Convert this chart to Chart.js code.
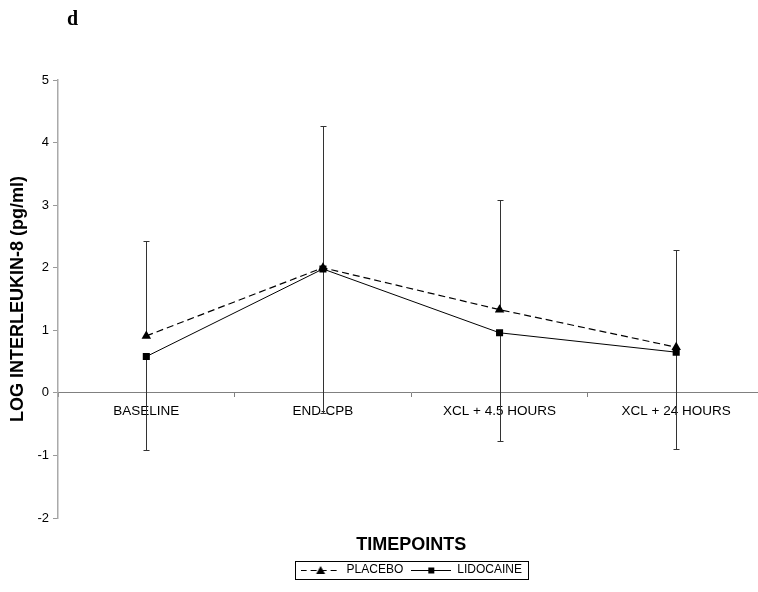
<!DOCTYPE html>
<html>
<head>
<meta charset="utf-8">
<script src="https://cdn.jsdelivr.net/npm/chart.js@4"></script>
<style>
  html, body { margin: 0; padding: 0; background: #fff; overflow: hidden; }
  #wrap { width: 758px; height: 592px; overflow: hidden; }
</style>
</head>
<body>
<div id="wrap"><canvas id="graph" width="770" height="592"></canvas></div>
<script>
var timepoints = ["BASELINE", "END-CPB", "XCL + 4.5 HOURS", "XCL + 24 HOURS"];
var placebo = [0.91, 2.00, 1.33, 0.73];
var lidocaine = [0.58, 1.98, 0.96, 0.65];
var placeboUpper = [2.43, 4.27, 3.08, 2.28];    // top of placebo error bar
var lidocaineLower = [-0.91, -0.32, -0.77, -0.89]; // bottom of lidocaine error bar
var yTicks = [-2, -1, 0, 1, 2, 3, 4, 5];

Chart.defaults.font.family = "'Liberation Sans', Arial, sans-serif";
Chart.defaults.color = "#000";

// little line+marker pictures for the legend
function legendIcon(dash, marker) {
  var c = document.createElement("canvas");
  c.width = 40; c.height = 12;
  var g = c.getContext("2d");
  g.strokeStyle = "#000";
  g.lineWidth = 1;
  g.setLineDash(dash);
  g.beginPath(); g.moveTo(0, 6.5); g.lineTo(40, 6.5); g.stroke();
  g.fillStyle = "#000";
  if (marker == "triangle") {
    g.beginPath(); g.moveTo(20, 2); g.lineTo(24.5, 10); g.lineTo(15.5, 10); g.closePath(); g.fill();
  } else {
    g.fillRect(17, 3.5, 6, 6);
  }
  return c;
}
var icons = [legendIcon([6, 4], "triangle"), legendIcon([], "rect")];

var errorBars = {
  id: "errorBars",
  beforeDatasetsDraw: function(chart) {
    var ctx = chart.ctx, xs = chart.scales.x, ys = chart.scales.y;
    ctx.save();
    ctx.strokeStyle = "#333";
    ctx.lineWidth = 1;
    timepoints.forEach(function(t, i) {
      var px = Math.round(xs.getPixelForValue(i)) + 0.5;
      [[placebo[i], placeboUpper[i]], [lidocaine[i], lidocaineLower[i]]].forEach(function(b) {
        var y0 = ys.getPixelForValue(b[0]), y1 = Math.round(ys.getPixelForValue(b[1])) + 0.5;
        ctx.beginPath();
        ctx.moveTo(px, y0); ctx.lineTo(px, y1);
        ctx.moveTo(px - 3, y1); ctx.lineTo(px + 3, y1);
        ctx.stroke();
      });
    });
    ctx.restore();
  }
};

var extras = {
  id: "extras",
  afterLayout: function(chart) {
    // centre the legend under the plot, not the whole canvas
    var lg = chart.legend;
    lg.left = chart.chartArea.left;
    lg.right = chart.chartArea.right;
    lg.width = lg.right - lg.left;
  },
  afterDraw: function(chart) {
    var ctx = chart.ctx;
    ctx.save();
    // panel letter
    ctx.fillStyle = "#000";
    ctx.font = "bold 20px 'Liberation Serif', 'Times New Roman', serif";
    ctx.textBaseline = "alphabetic";
    ctx.fillText("d", 67, 25);
    // box round the legend
    var hb = chart.legend.legendHitBoxes;
    if (hb && hb.length) {
      var first = hb[0], last = hb[hb.length - 1];
      var l = first.left - 6, r = last.left + last.width + 6;
      var t = first.top - 3, h = first.height + 6;
      ctx.strokeStyle = "#000";
      ctx.lineWidth = 1;
      ctx.strokeRect(Math.round(l) + 0.5, Math.round(t) + 0.5, Math.round(r - l), Math.round(h));
    }
    ctx.restore();
  }
};

var ctx = document.getElementById("graph").getContext("2d");
var chart = new Chart(ctx, {
  type: "line",
  data: {
    labels: timepoints,
    datasets: [
      {
        label: "PLACEBO",
        data: placebo,
        borderColor: "#000",
        backgroundColor: "#000",
        borderWidth: 1.2,
        borderDash: [7, 4],
        pointStyle: "triangle",
        pointRadius: 5.5,
        pointBorderWidth: 0
      },
      {
        label: "LIDOCAINE",
        data: lidocaine,
        borderColor: "#000",
        backgroundColor: "#000",
        borderWidth: 1,
        pointStyle: "rect",
        pointRadius: 5,
        pointBorderWidth: 0
      }
    ]
  },
  options: {
    responsive: false,
    animation: false,
    layout: { padding: { top: 80, left: 2, right: 3, bottom: 6 } },
    scales: {
      x: {
        position: { y: 0 },
        offset: true,
        grid: { offset: true, drawOnChartArea: false, tickLength: 4, color: "#808080" },
        border: { color: "#808080" },
        ticks: { font: { size: 13.5 }, color: "#000", padding: 6, maxRotation: 0, autoSkip: false }
      },
      x2: {
        type: "category",
        position: "bottom",
        offset: true,
        ticks: { display: false },
        grid: { display: false },
        border: { display: false },
        title: { display: true, text: "TIMEPOINTS", font: { size: 18, weight: "bold" }, color: "#000", padding: 0 },
        afterFit: function(s) { s.height = 38; }
      },
      y: {
        min: yTicks[0],
        max: yTicks[yTicks.length - 1],
        ticks: { stepSize: 1, font: { size: 13 }, color: "#000", padding: 4 },
        grid: { drawOnChartArea: false, tickLength: 5, color: "#999" },
        border: { color: "#aaa", width: 1.5 },
        title: { display: true, text: "LOG INTERLEUKIN-8 (pg/ml)", font: { size: 18, weight: "bold" }, color: "#000", padding: { top: 5.5, bottom: 8 } },
        afterFit: function(s) { s.width = 56; }
      }
    },
    plugins: {
      legend: {
        position: "bottom",
        labels: {
          usePointStyle: true,
          pointStyleWidth: 40,
          padding: 8,
          font: { size: 12 },
          color: "#000",
          generateLabels: function(chart) {
            var items = Chart.defaults.plugins.legend.labels.generateLabels(chart);
            items.forEach(function(it, i) { it.pointStyle = icons[i]; });
            return items;
          }
        }
      },
      tooltip: { enabled: false }
    }
  },
  plugins: [errorBars, extras]
});
</script>
</body>
</html>
